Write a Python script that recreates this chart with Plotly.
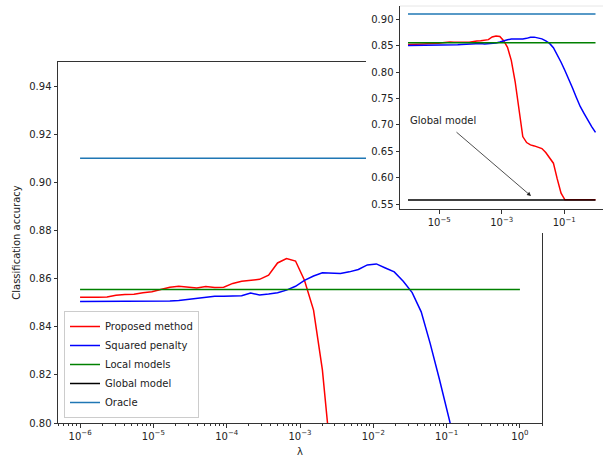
import plotly.graph_objects as go

# regularisation grid (lambda)
lambdas = [1.00e-6, 1.33e-6, 1.76e-6, 2.33e-6, 3.09e-6, 4.09e-6, 5.43e-6, 7.20e-6, 9.54e-6,
           1.26e-5, 1.68e-5, 2.22e-5, 2.95e-5, 3.91e-5, 5.18e-5, 6.87e-5, 9.10e-5,
           1.21e-4, 1.60e-4, 2.12e-4, 2.81e-4, 3.73e-4, 4.94e-4, 6.55e-4, 8.69e-4,
           1.15e-3, 1.53e-3, 2.02e-3, 2.68e-3, 3.56e-3, 4.71e-3, 6.25e-3, 8.29e-3,
           1.10e-2, 1.46e-2, 1.93e-2, 2.56e-2, 3.39e-2, 4.50e-2, 5.96e-2, 7.91e-2,
           1.05e-1, 1.39e-1, 1.84e-1, 2.44e-1, 3.24e-1, 4.29e-1, 5.69e-1, 7.54e-1, 1.0]

proposed = [0.8522, 0.8521, 0.8522, 0.8524, 0.8531, 0.8534, 0.8535, 0.8541, 0.8545,
            0.8555, 0.8564, 0.8568, 0.8566, 0.8561, 0.8567, 0.8563, 0.8564,
            0.8580, 0.8589, 0.8592, 0.8597, 0.8614, 0.8665, 0.8683, 0.8673,
            0.8593, 0.8469, 0.8221, 0.7822, 0.7286, 0.6780, 0.6667, 0.6623,
            0.6604, 0.6585, 0.6553, 0.6478, 0.6371, 0.6277, 0.5980, 0.5710,
            0.5585, 0.5585, 0.5585, 0.5585, 0.5585, 0.5585, 0.5585, 0.5585, 0.5585]

squared = [0.8505, 0.8505, 0.8506, 0.8506, 0.8506, 0.8506, 0.8505, 0.8505, 0.8505,
           0.8505, 0.8507, 0.8509, 0.8513, 0.8517, 0.8522, 0.8527, 0.8527,
           0.8529, 0.8529, 0.8540, 0.8532, 0.8536, 0.8541, 0.8552, 0.8568,
           0.8593, 0.8611, 0.8624, 0.8621, 0.8621, 0.8628, 0.8638, 0.8657,
           0.8661, 0.8644, 0.8628, 0.8589, 0.8542, 0.8462, 0.8331, 0.8186,
           0.8030, 0.7880, 0.7700, 0.7520, 0.7350, 0.7220, 0.7080, 0.6970, 0.6860]

local_models = 0.8555
global_model = 0.558
oracle = 0.910

series_names = ["Proposed method", "Squared penalty", "Local models", "Global model", "Oracle"]
series_colors = ["red", "blue", "green", "black", "#1f77b4"]

main_xticks = [1e-6, 1e-5, 1e-4, 1e-3, 1e-2, 1e-1, 1e0]
main_xticktext = ["10<sup>−6</sup>", "10<sup>−5</sup>", "10<sup>−4</sup>", "10<sup>−3</sup>",
                  "10<sup>−2</sup>", "10<sup>−1</sup>", "10<sup>0</sup>"]
main_yticks = [0.80, 0.82, 0.84, 0.86, 0.88, 0.90, 0.92, 0.94]
inset_xticks = [1e-5, 1e-3, 1e-1]
inset_xticktext = ["10<sup>−5</sup>", "10<sup>−3</sup>", "10<sup>−1</sup>"]
inset_yticks = [0.55, 0.60, 0.65, 0.70, 0.75, 0.80, 0.85, 0.90]

W, H = 603, 457
FONT = "DejaVu Sans"
AX = "#333333"

ends = [lambdas[0], lambdas[-1]]
series_y = [proposed, squared, [local_models] * 2, [global_model] * 2, [oracle] * 2]
series_x = [lambdas, lambdas, ends, ends, ends]

fig = go.Figure()
for name, col, xs, ys in zip(series_names, series_colors, series_x, series_y):
    fig.add_trace(go.Scatter(x=xs, y=ys, mode="lines", name=name,
                             line=dict(color=col, width=1.5), xaxis="x", yaxis="y"))

# white cover panel behind the inset (hides main plot under the inset and its labels)
fig.add_trace(go.Scatter(x=[None], y=[None], mode="lines", showlegend=False,
                         hoverinfo="skip", xaxis="x2", yaxis="y2"))

for name, col, xs, ys in zip(series_names, series_colors, series_x, series_y):
    fig.add_trace(go.Scatter(x=xs, y=ys, mode="lines", name=name, showlegend=False,
                             line=dict(color=col, width=1.5), xaxis="x3", yaxis="y3"))

def px_x(p):
    return p / W

def px_y(p):
    return (H - p) / H

common = dict(showgrid=False, zeroline=False, showline=True, linecolor=AX, linewidth=1,
              ticks="outside", tickcolor=AX, ticklen=3.5, tickwidth=1, automargin=False,
              tickfont=dict(family=FONT, size=10, color="#222"))

fig.update_layout(
    width=W, height=H,
    margin=dict(l=0, r=0, t=0, b=0, autoexpand=False),
    paper_bgcolor="white", plot_bgcolor="white",
    font=dict(family=FONT, size=10, color="#222"),
    xaxis=dict(type="log", range=[-6.301, 0.301], domain=[px_x(58), px_x(542)], anchor="y",
               mirror=True, tickvals=main_xticks, ticktext=main_xticktext,
               minor=dict(ticks="outside", ticklen=2, tickcolor=AX, dtick="D1", showgrid=False),
               title=dict(text="λ", font=dict(family=FONT, size=10), standoff=9),
               **common),
    yaxis=dict(range=[0.80, 0.95], domain=[px_y(423), px_y(62)], anchor="x", mirror=True,
               tickvals=main_yticks, ticktext=[f"{v:.2f}" for v in main_yticks],
               title=dict(text="Classification accuracy", font=dict(family=FONT, size=10), standoff=6),
               **common),
    xaxis2=dict(domain=[px_x(366), 1.0], anchor="y2", visible=False, range=[0, 1], automargin=False),
    yaxis2=dict(domain=[px_y(233), 1.0], anchor="x2", visible=False, range=[0, 1], automargin=False),
    xaxis3=dict(type="log", range=[-6.256, 0.24], domain=[px_x(400), 1.0], anchor="y3",
                tickvals=inset_xticks, ticktext=inset_xticktext, **common),
    yaxis3=dict(range=[0.5405, 0.925], domain=[px_y(209.3), px_y(6)], anchor="x3",
                tickvals=inset_yticks, ticktext=[f"{v:.2f}" for v in inset_yticks], **common),
    legend=dict(x=px_x(64), y=px_y(418), xanchor="left", yanchor="bottom",
                bgcolor="rgba(255,255,255,0.85)", bordercolor="#cccccc", borderwidth=1,
                font=dict(family=FONT, size=10, color="#222"), tracegroupgap=0),
    showlegend=True,
)

# faint top edge of the inset panel
fig.add_shape(type="line", xref="paper", yref="paper", x0=px_x(400), x1=1.0,
              y0=px_y(6), y1=px_y(6), line=dict(color="#e6e6e6", width=1))

# "Global model" annotation in the inset
fig.add_annotation(xref="x3", yref="y3", x=-6, y=0.70, text="Global model", showarrow=False,
                   xanchor="left", yanchor="bottom", yshift=-3,
                   font=dict(family=FONT, size=10, color="#222"))
fig.add_annotation(xref="x3", yref="y3", x=-2.064, y=0.5657, axref="x3", ayref="y3",
                   ax=-4.496, ay=0.6888, text="", showarrow=True, arrowhead=2,
                   arrowsize=1, arrowwidth=0.8, arrowcolor="#222")

fig.write_html("out.html")
